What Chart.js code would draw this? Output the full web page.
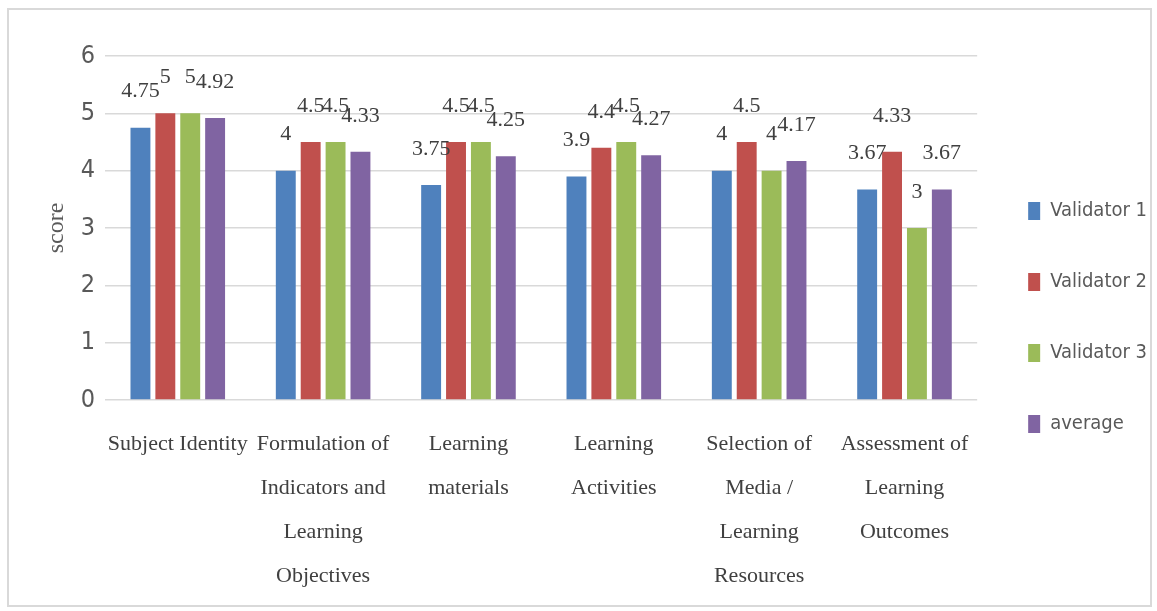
<!DOCTYPE html>
<html>
<head>
<meta charset="utf-8">
<script src="https://cdn.jsdelivr.net/npm/chart.js@4"></script>
<style>
html,body{margin:0;padding:0;background:#fff;}
#frame{position:absolute;left:7px;top:8px;width:1141px;height:595px;border:2px solid #d9d9d9;background:#fff;}
#wrap{position:absolute;left:0;top:0;width:1141px;height:595px;}
</style>
</head>
<body>
<div id="frame"><div id="wrap"><canvas id="c"></canvas></div></div>
<script>
const categories = [
  "Subject Identity",
  ["Formulation of", "Indicators and", "Learning", "Objectives"],
  ["Learning", "materials"],
  ["Learning", "Activities"],
  ["Selection of", "Media /", "Learning", "Resources"],
  ["Assessment of", "Learning", "Outcomes"]
];
const seriesNames = ["Validator 1", "Validator 2", "Validator 3", "average"];
const validator1 = [4.75, 4, 3.75, 3.9, 4, 3.67];
const validator2 = [5, 4.5, 4.5, 4.4, 4.5, 4.33];
const validator3 = [5, 4.5, 4.5, 4.5, 4, 3];
const average = [4.92, 4.33, 4.25, 4.27, 4.17, 3.67];
const yTicks = [0, 1, 2, 3, 4, 5, 6];
const colors = ["#4F81BD", "#C0504D", "#9BBB59", "#8064A2"];

const serif = "'Liberation Serif', 'Times New Roman', serif";
const narrow = "'Liberation Sans Narrow', 'Arial Narrow', 'DejaVu Sans Condensed', sans-serif";

const valueLabels = {
  id: 'valueLabels',
  afterDatasetsDraw(chart) {
    const ctx = chart.ctx;
    ctx.save();
    ctx.font = "22px " + serif;
    ctx.fillStyle = "#404040";
    ctx.textAlign = "center";
    ctx.textBaseline = "middle";
    chart.data.datasets.forEach((ds, i) => {
      const meta = chart.getDatasetMeta(i);
      meta.data.forEach((bar, j) => {
        ctx.fillText(String(ds.data[j]), bar.x, bar.y - 36);
      });
    });
    ctx.restore();
  }
};

const allSeries = [validator1, validator2, validator3, average];
new Chart(document.getElementById('c'), {
  type: 'bar',
  data: {
    labels: categories,
    datasets: allSeries.map((d, i) => ({
      label: seriesNames[i],
      data: d,
      backgroundColor: colors[i],
      borderWidth: 0,
      categoryPercentage: 0.685,
      barPercentage: 0.8
    }))
  },
  options: {
    responsive: true,
    maintainAspectRatio: false,
    animation: false,
    layout: { padding: { top: 46, left: 33, right: -7, bottom: -15 } },
    plugins: {
      tooltip: { enabled: false },
      legend: {
        position: 'right',
        align: 'start',
        title: { display: true, text: '', font: { size: 10 }, padding: { top: 82, bottom: 0 } },
        labels: {
          boxWidth: 12,
          boxHeight: 18,
          padding: 51,
          color: "#595959",
          font: { family: narrow, size: 20 }
        }
      }
    },
    scales: {
      x: {
        grid: { display: false, drawTicks: false },
        border: { display: false },
        ticks: {
          color: "#404040",
          font: { family: serif, size: 22, lineHeight: 2.0 },
          maxRotation: 0,
          minRotation: 0,
          autoSkip: false,
          padding: 22
        }
      },
      y: {
        min: 0,
        max: 6,
        afterBuildTicks(axis) { axis.ticks = yTicks.map(v => ({ value: v })); },
        grid: { color: "#d9d9d9", lineWidth: 1.5, drawTicks: false },
        border: { display: false },
        ticks: {
          color: "#595959",
          font: { family: narrow, size: 25 },
          padding: 10
        },
        title: {
          display: true,
          text: "score",
          color: "#595959",
          font: { family: serif, size: 24 },
          padding: { top: 0, bottom: 0 }
        }
      }
    }
  },
  plugins: [valueLabels]
});
</script>
</body>
</html>
